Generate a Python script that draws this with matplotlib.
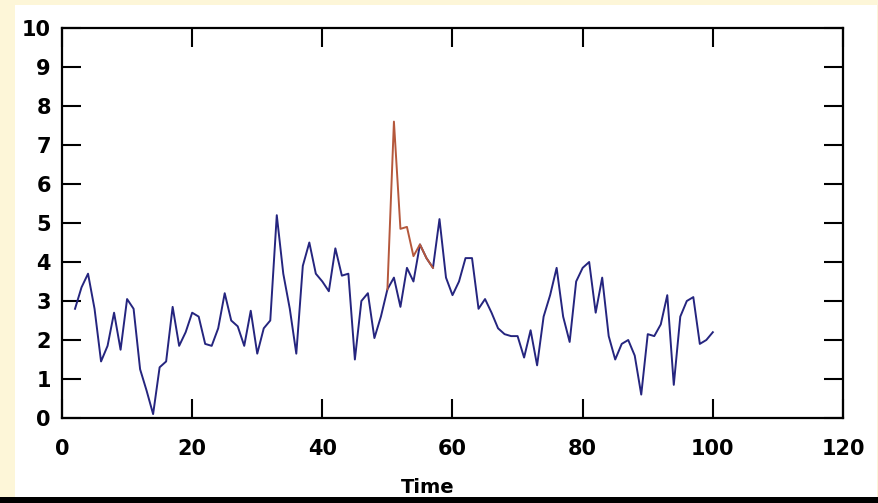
import matplotlib.pyplot as plt
from matplotlib.patches import Rectangle

# values, x = 2..100
t = list(range(2, 101))
signal = [2.8, 3.35, 3.7, 2.8, 1.45, 1.85, 2.7, 1.75, 3.05, 2.8,
          1.25, 0.7, 0.1, 1.3, 1.45, 2.85, 1.85, 2.2, 2.7, 2.6,
          1.9, 1.85, 2.3, 3.2, 2.5, 2.35, 1.85, 2.75, 1.65, 2.3,
          2.5, 5.2, 3.7, 2.8, 1.65, 3.9, 4.5, 3.7, 3.5, 3.25,
          4.35, 3.65, 3.7, 1.5, 3.0, 3.2, 2.05, 2.6, 3.3, 3.6,
          2.85, 3.85, 3.5, 4.45, 4.1, 3.85, 5.1, 3.6, 3.15, 3.5,
          4.1, 4.1, 2.8, 3.05, 2.7, 2.3, 2.15, 2.1, 2.1, 1.55,
          2.25, 1.35, 2.6, 3.15, 3.85, 2.6, 1.95, 3.5, 3.85, 4.0,
          2.7, 3.6, 2.1, 1.5, 1.9, 2.0, 1.6, 0.6, 2.15, 2.1,
          2.4, 3.15, 0.85, 2.6, 3.0, 3.1, 1.9, 2.0, 2.2]

t_spike = [50, 51, 52, 53, 54, 55, 56, 57]
spike = [3.3, 7.6, 4.85, 4.9, 4.15, 4.45, 4.1, 3.85]

xticks = [0, 20, 40, 60, 80, 100, 120]
yticks = list(range(0, 11))

W, H = 879, 503
fig = plt.figure(figsize=(W / 100, H / 100), dpi=100)
fig.patch.set_facecolor('#fdf6d8')

# white panel behind everything
fig.patches.append(Rectangle((15 / W, 6 / H), 862 / W, 492 / H,
                             transform=fig.transFigure, facecolor='white',
                             edgecolor='none', zorder=-5))

ax = fig.add_axes([62 / W, 85 / H, 781 / W, 390 / H])
ax.set_facecolor('white')

ax.plot(t, signal, color='#25257f', lw=1.4)
ax.plot(t_spike, spike, color='#b5583c', lw=1.4)

ax.set_xlim(0, 120)
ax.set_ylim(0, 10)
ax.set_xticks(xticks)
ax.set_yticks(yticks)

for s in ax.spines.values():
    s.set_linewidth(1.6)
    s.set_color('black')

ax.tick_params(axis='both', direction='in', length=14, width=1.5,
               top=True, right=True, labelsize=15)
ax.tick_params(axis='x', pad=15)
ax.tick_params(axis='y', pad=8)
for lbl in ax.get_xticklabels() + ax.get_yticklabels():
    lbl.set_fontweight('bold')

fig.text(428 / W, (H - 478) / H, 'Time', ha='center', va='top', fontsize=14,
         fontweight='bold', zorder=1)

# dark strip along the bottom
fig.patches.append(Rectangle((0, 0), 1, 6 / H, transform=fig.transFigure,
                             facecolor='black', edgecolor='none', zorder=5))

fig.savefig('out.png', dpi=100, facecolor=fig.get_facecolor())
